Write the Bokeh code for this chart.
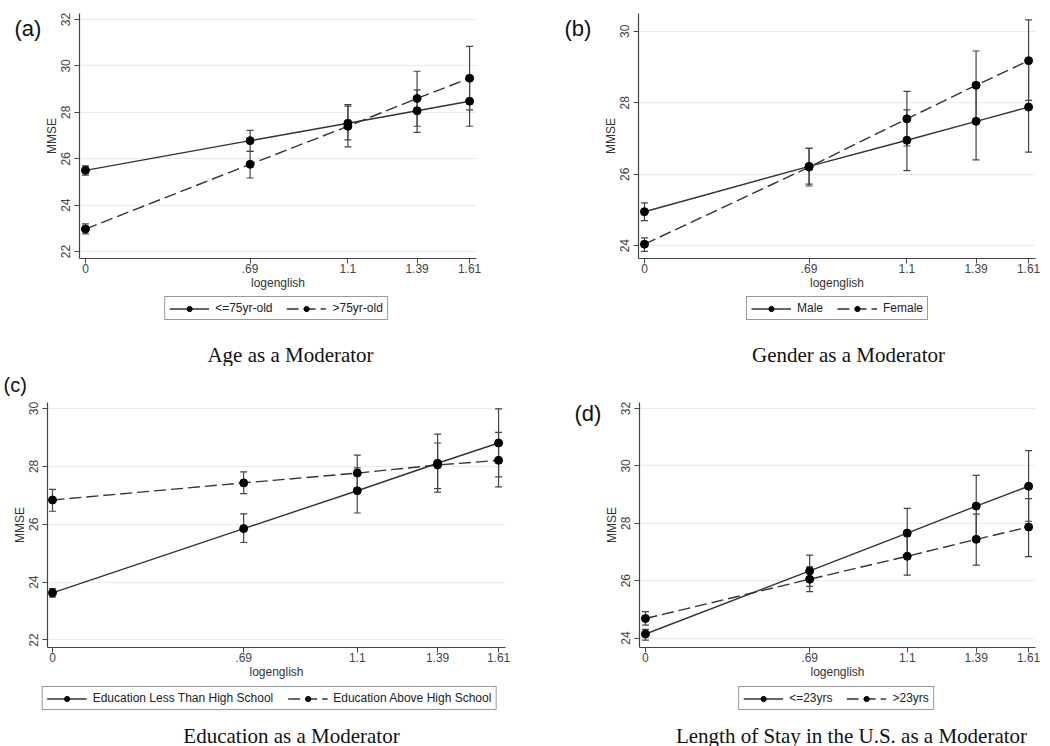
from bokeh.plotting import figure
from bokeh.models import (ColumnDataSource, Range1d, FixedTicker, Whisker, TeeHead,
                          Legend, LegendItem, Label)
from bokeh.layouts import column, row
from bokeh.embed import file_html
from bokeh.resources import INLINE

# ---------------- data ----------------
x_vals = [0.0, 0.69, 1.1, 1.39, 1.61]
x_tick_labels = ["0", ".69", "1.1", "1.39", "1.61"]
y_axis_label = "MMSE"
x_axis_label = "logenglish"

# (a) Age
age_labels = ["<=75yr-old", ">75yr-old"]
age_le75_mean = [25.50, 26.78, 27.53, 28.07, 28.48]
age_le75_lo = [25.29, 26.32, 26.81, 27.14, 27.40]
age_le75_hi = [25.69, 27.22, 28.27, 28.97, 29.55]
age_gt75_mean = [22.97, 25.76, 27.40, 28.60, 29.47]
age_gt75_lo = [22.76, 25.17, 26.51, 27.40, 28.11]
age_gt75_hi = [23.19, 26.32, 28.33, 29.77, 30.84]
age_yticks = [22, 24, 26, 28, 30, 32]

# (b) Gender
gender_labels = ["Male", "Female"]
male_mean = [24.95, 26.22, 26.95, 27.48, 27.88]
male_lo = [24.70, 25.72, 26.10, 26.40, 26.62]
male_hi = [25.20, 26.73, 27.80, 28.55, 29.15]
female_mean = [24.04, 26.20, 27.55, 28.49, 29.18]
female_lo = [23.84, 25.67, 26.79, 27.50, 28.07]
female_hi = [24.22, 26.72, 28.32, 29.45, 30.32]
gender_yticks = [24, 26, 28, 30]

# (c) Education
edu_labels = ["Education Less Than High School", "Education Above High School"]
edu_lt_mean = [23.63, 25.85, 27.16, 28.11, 28.81]
edu_lt_lo = [23.48, 25.37, 26.39, 27.11, 27.64]
edu_lt_hi = [23.78, 26.36, 27.95, 29.12, 29.99]
edu_ab_mean = [26.84, 27.43, 27.77, 28.05, 28.21]
edu_ab_lo = [26.45, 27.06, 27.15, 27.23, 27.29]
edu_ab_hi = [27.21, 27.81, 28.39, 28.81, 29.18]
edu_yticks = [22, 24, 26, 28, 30]

# (d) Length of stay
stay_labels = ["<=23yrs", ">23yrs"]
stay_le23_mean = [24.14, 26.34, 27.66, 28.60, 29.29]
stay_le23_lo = [23.93, 25.80, 26.80, 27.53, 28.07]
stay_le23_hi = [24.30, 26.89, 28.52, 29.67, 30.53]
stay_gt23_mean = [24.68, 26.05, 26.85, 27.44, 27.87]
stay_gt23_lo = [24.45, 25.62, 26.19, 26.54, 26.84]
stay_gt23_hi = [24.92, 26.48, 27.53, 28.32, 28.86]
stay_yticks = [24, 26, 28, 30, 32]

captions = ["Age as a Moderator", "Gender as a Moderator",
            "Education as a Moderator", "Length of Stay in the U.S. as a Moderator"]
letters = ["(a)", "(b)", "(c)", "(d)"]

# ---------------- style ----------------
FONT = "Liberation Sans"
SERIF = "Liberation Serif"
LINE = "#333333"
AX = "#444444"
DASHES = ["solid", "12 5"]
COL_W = 525
FRAME_H = 245


def blank(width, height, top=0, bottom=0):
    """A figure without axes; data units are pixels of its frame."""
    p = figure(width=width, height=height, x_range=Range1d(0, width),
               y_range=Range1d(0, height - top - bottom), output_backend="svg",
               toolbar_location=None, x_axis_type=None, y_axis_type=None,
               min_border_left=0, min_border_right=0,
               min_border_top=top, min_border_bottom=bottom,
               outline_line_color=None, background_fill_color="white",
               border_fill_color="white")
    p.grid.visible = False
    return p


def text_fig(width, height, text, x, y, font, size, align="left", top=0, bottom=0):
    p = blank(width, height, top, bottom)
    p.add_layout(Label(x=x, y=y, text=text, text_font=font, text_font_size=size,
                       text_baseline="middle", text_align=align, text_color="#111111"))
    return p


def main_fig(series, yticks, xr, yr, width, height, borders):
    left, right, top, bottom = borders
    p = figure(width=width, height=height, x_range=Range1d(*xr), y_range=Range1d(*yr),
               output_backend="svg", toolbar_location=None,
               min_border_left=left, min_border_right=right,
               min_border_top=top, min_border_bottom=bottom,
               outline_line_color=None, background_fill_color="white",
               border_fill_color="white")
    p.xgrid.visible = False
    p.ygrid.grid_line_color = "#ebebeb"
    p.ygrid.grid_line_width = 1

    p.xaxis.ticker = FixedTicker(ticks=x_vals)
    p.xaxis.major_label_overrides = {v: t for v, t in zip(x_vals, x_tick_labels)}
    p.yaxis.ticker = FixedTicker(ticks=yticks)
    p.yaxis.major_label_orientation = "vertical"
    p.xaxis.axis_label = x_axis_label
    p.yaxis.axis_label = y_axis_label
    for ax in (p.xaxis[0], p.yaxis[0]):
        ax.axis_line_color = AX
        ax.axis_line_width = 1.2
        ax.major_tick_line_color = AX
        ax.major_tick_out = 5
        ax.major_tick_in = 0
        ax.minor_tick_out = 0
        ax.minor_tick_in = 0
        ax.major_label_text_font = FONT
        ax.major_label_text_font_size = "12px"
        ax.major_label_text_color = "#444444"
        ax.axis_label_text_font = FONT
        ax.axis_label_text_font_size = "12px"
        ax.axis_label_text_font_style = "normal"
        ax.axis_label_text_color = "#333333"
        ax.axis_label_standoff = 0
    p.xaxis[0].major_label_standoff = 0
    p.yaxis[0].major_label_standoff = 4

    for i, (mean, lo, hi) in enumerate(series):
        src = ColumnDataSource(dict(x=x_vals, y=mean, lo=lo, hi=hi))
        w = Whisker(source=src, base="x", upper="hi", lower="lo",
                    line_color="#444444", line_width=1.2,
                    upper_head=TeeHead(size=7, line_color="#444444", line_width=1.2),
                    lower_head=TeeHead(size=7, line_color="#444444", line_width=1.2))
        p.add_layout(w)
        p.line("x", "y", source=src, line_color=LINE, line_width=1.4, line_dash=DASHES[i])
        p.scatter("x", "y", source=src, size=8, fill_color="black", line_color="black")
    return p


def legend_row(labels, cx, height, margin):
    half = min(cx, COL_W - cx)
    left = cx - half
    w = 2 * half
    right = COL_W - left - w
    p = blank(w, height)
    items = []
    for i, lab in enumerate(labels):
        # legend-only renderers, kept outside the visible range
        ln = p.line(x=[-50, -40], y=[-50, -50], line_color=LINE, line_width=1.4,
                    line_dash=DASHES[i])
        sc = p.scatter(x=[-45], y=[-50], size=8, fill_color="black", line_color="black")
        items.append(LegendItem(label=lab, renderers=[ln, sc]))
    leg = Legend(items=items, orientation="horizontal", location="top_center",
                 border_line_color="#333333", border_line_width=1,
                 padding=4, spacing=14, margin=margin, label_standoff=6,
                 glyph_width=40, glyph_height=13, label_height=13,
                 label_text_font=FONT, label_text_font_size="12px",
                 label_text_color="#222222", background_fill_color="white")
    p.add_layout(leg)
    parts = []
    if left > 0:
        parts.append(blank(left, height))
    parts.append(p)
    if right > 0:
        parts.append(blank(right, height))
    return row(*parts)


# ---- panel (a) ----  (frame: y 13..258)
letA = text_fig(41, 296, letters[0], 14, 230, FONT, "22px", top=13, bottom=38)
mainA = main_fig([(age_le75_mean, age_le75_lo, age_le75_hi),
                  (age_gt75_mean, age_gt75_lo, age_gt75_hi)],
                 age_yticks, (-0.025, 1.639), (21.70, 32.26), 484, 296, (36, 49, 13, 38))
legA = legend_row(age_labels, 276, 24, 0)
capA = text_fig(COL_W, 46, captions[0], 290, 12, SERIF, "21px", "center")
colA = column(row(letA, mainA), legA, row(capA))

# ---- panel (b) ----
letB = text_fig(75, 296, letters[1], 39, 230, FONT, "22px", top=13, bottom=38)
mainB = main_fig([(male_mean, male_lo, male_hi),
                  (female_mean, female_lo, female_hi)],
                 gender_yticks, (-0.025, 1.639), (23.64, 30.50), 450, 296, (37, 15, 13, 38))
legB = legend_row(gender_labels, 312, 24, 0)
capB = text_fig(COL_W, 46, captions[1], 323, 12, SERIF, "21px", "center")
colB = column(row(letB, mainB), legB, row(capB))

# ---- panel (c) ----  (frame: y 402..647)
headC = text_fig(COL_W, 30, letters[2], 3, 12, FONT, "20px")
mainC = main_fig([(edu_lt_mean, edu_lt_lo, edu_lt_hi),
                  (edu_ab_mean, edu_ab_lo, edu_ab_hi)],
                 edu_yticks, (-0.018, 1.635), (21.74, 30.21), COL_W, 289, (47, 20, 6, 38))
legC = legend_row(edu_labels, 269, 25, 1)
capC = text_fig(COL_W, 36, captions[2], 291, 11, SERIF, "21px", "center")
colC = column(row(headC), row(mainC), legC, row(capC))

# ---- panel (d) ----  (frame: y 402..647)
letD = text_fig(76, 319, letters[3], 49, 234, FONT, "22px", top=36, bottom=38)
mainD = main_fig([(stay_le23_mean, stay_le23_lo, stay_le23_hi),
                  (stay_gt23_mean, stay_gt23_lo, stay_gt23_hi)],
                 stay_yticks, (-0.025, 1.639), (23.67, 32.21), 449, 319, (36, 15, 36, 38))
legD = legend_row(stay_labels, 311, 25, 1)
capD = text_fig(COL_W, 36, captions[3], 326, 11, SERIF, "21px", "center")
colD = column(row(letD, mainD), legD, row(capD))

layout = column(row(colA, colB), row(colC, colD))
open("out.html", "w").write(file_html(layout, INLINE))
